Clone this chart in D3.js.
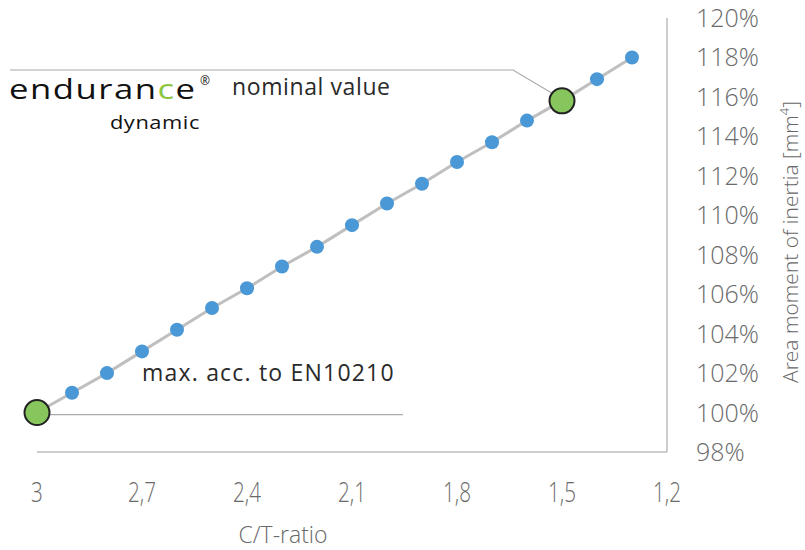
<!DOCTYPE html>
<html lang="en">
<head>
<meta charset="utf-8">
<title>Area moment of inertia vs C/T-ratio</title>
<script src="https://d3js.org/d3.v7.min.js"></script>
<style>
  body { margin: 0; background: #fff; }
  text { font-family: "Open Sans", Lato, sans-serif; }
</style>
</head>
<body>
<script>
// data
var ctRatio = [3, 2.9, 2.8, 2.7, 2.6, 2.5, 2.4, 2.3, 2.2, 2.1, 2.0, 1.9, 1.8, 1.7, 1.6, 1.5, 1.4, 1.3];
var inertiaPct = [100, 101, 102, 103.1, 104.2, 105.3, 106.3, 107.4, 108.4, 109.5, 110.6, 111.6, 112.7, 113.7, 114.8, 115.8, 116.9, 118.0];
var xTicks = [3, 2.7, 2.4, 2.1, 1.8, 1.5, 1.2];
var yTicks = [98, 100, 102, 104, 106, 108, 110, 112, 114, 116, 118, 120];
var highlighted = [3, 1.5];   // green markers
var notes = [
  { ct: 1.5, label: "nominal value" },
  { ct: 3, label: "max. acc. to EN10210" }
];

var width = 805, height = 550;

var svg = d3.select("body").append("svg")
    .attr("width", width)
    .attr("height", height);

// reversed x axis (3 on the left)
var x = d3.scaleLinear().domain([3, 1.2]).range([37, 667]);
var y = d3.scaleLinear().domain([98, 120]).range([452, 18]);

var pts = ctRatio.map(function(c, i) { return { ct: c, v: inertiaPct[i] }; });

// axis lines
svg.append("line")
    .attr("x1", x(3)).attr("x2", x(1.2))
    .attr("y1", y(98)).attr("y2", y(98))
    .attr("stroke", "#bdbdbd").attr("stroke-width", 1.5);
svg.append("line")
    .attr("x1", x(1.2)).attr("x2", x(1.2))
    .attr("y1", y(98)).attr("y2", y(120))
    .attr("stroke", "#bdbdbd").attr("stroke-width", 1.5);

// tick labels (x labels are a condensed face in the original)
svg.selectAll("text.xt").data(xTicks).enter().append("text")
    .attr("class", "xt")
    .attr("transform", function(d) { return "translate(" + x(d) + ",502) scale(0.74,1)"; })
    .attr("text-anchor", "middle")
    .attr("font-size", 28)
    .attr("font-weight", 300)
    .attr("fill", "#6a6a6a")
    .text(function(d) { return String(d).replace(".", ","); });

svg.selectAll("text.yt").data(yTicks).enter().append("text")
    .attr("class", "yt")
    .attr("x", 696)
    .attr("y", function(d) { return y(d); })
    .attr("dy", "0.36em")
    .attr("font-size", 25)
    .attr("font-weight", 300)
    .attr("fill", "#6a6a6a")
    .text(function(d) { return d + "%"; });

// axis titles
svg.append("text")
    .attr("x", 283).attr("y", 543)
    .attr("text-anchor", "middle")
    .attr("font-size", 23)
    .attr("font-weight", 300)
    .attr("fill", "#6a6a6a")
    .text("C/T-ratio");

var yt = svg.append("text")
    .attr("transform", "translate(798,242) rotate(-90)")
    .attr("text-anchor", "middle")
    .attr("font-size", 21)
    .attr("font-weight", 300)
    .attr("fill", "#666");
yt.append("tspan").text("Area moment of inertia [mm");
yt.append("tspan").attr("font-size", 13).attr("dy", -9).text("4");
yt.append("tspan").attr("dy", 9).text("]");

// annotation leader lines
var nom = pts.find(function(p) { return p.ct === notes[0].ct; });
var mx = pts.find(function(p) { return p.ct === notes[1].ct; });
svg.append("polyline")
    .attr("points", [[10, 70], [513, 70], [x(nom.ct) - 4, y(nom.v) - 4]].join(" "))
    .attr("fill", "none").attr("stroke", "#aaa").attr("stroke-width", 1.2);
svg.append("line")
    .attr("x1", x(mx.ct)).attr("x2", 403)
    .attr("y1", y(mx.v) + 2).attr("y2", y(mx.v) + 2)
    .attr("stroke", "#aaa").attr("stroke-width", 1.2);

// series line
svg.append("path")
    .datum(pts)
    .attr("fill", "none")
    .attr("stroke", "#bfbfbf")
    .attr("stroke-width", 3)
    .attr("d", d3.line().x(function(d) { return x(d.ct); }).y(function(d) { return y(d.v); }));

// markers
svg.selectAll("circle.pt").data(pts).enter().append("circle")
    .attr("class", "pt")
    .attr("cx", function(d) { return x(d.ct); })
    .attr("cy", function(d) { return y(d.v); })
    .attr("r", function(d) { return highlighted.indexOf(d.ct) >= 0 ? 12.5 : 7; })
    .attr("fill", function(d) { return highlighted.indexOf(d.ct) >= 0 ? "#86c65d" : "#4a98d6"; })
    .attr("stroke", function(d) { return highlighted.indexOf(d.ct) >= 0 ? "#222" : "none"; })
    .attr("stroke-width", 2);

// annotation labels
svg.append("text")
    .attr("x", 232).attr("y", 95)
    .attr("font-size", 23).attr("letter-spacing", 0.6).attr("fill", "#2a2a2a")
    .text(notes[0].label);
svg.append("text")
    .attr("x", 142).attr("y", 381)
    .attr("font-size", 23).attr("letter-spacing", 1.2).attr("fill", "#2a2a2a")
    .text(notes[1].label);

// logo (wide geometric face in the original, so stretch horizontally)
var logo = svg.append("text")
    .attr("transform", "translate(9,99) scale(1.24,1)")
    .attr("font-size", 28).attr("letter-spacing", 1.2).attr("fill", "#111");
logo.append("tspan").text("endura");
logo.append("tspan").text("n");
logo.append("tspan").attr("fill", "#8cc63f").text("c");
logo.append("tspan").text("e");
svg.append("text")
    .attr("x", 200).attr("y", 85)
    .attr("font-size", 12).attr("fill", "#111")
    .text("®");
svg.append("text")
    .attr("transform", "translate(200,129) scale(1.15,1)")
    .attr("text-anchor", "end")
    .attr("font-size", 19).attr("letter-spacing", 0.5).attr("fill", "#111")
    .text("dynamic");
</script>
</body>
</html>
